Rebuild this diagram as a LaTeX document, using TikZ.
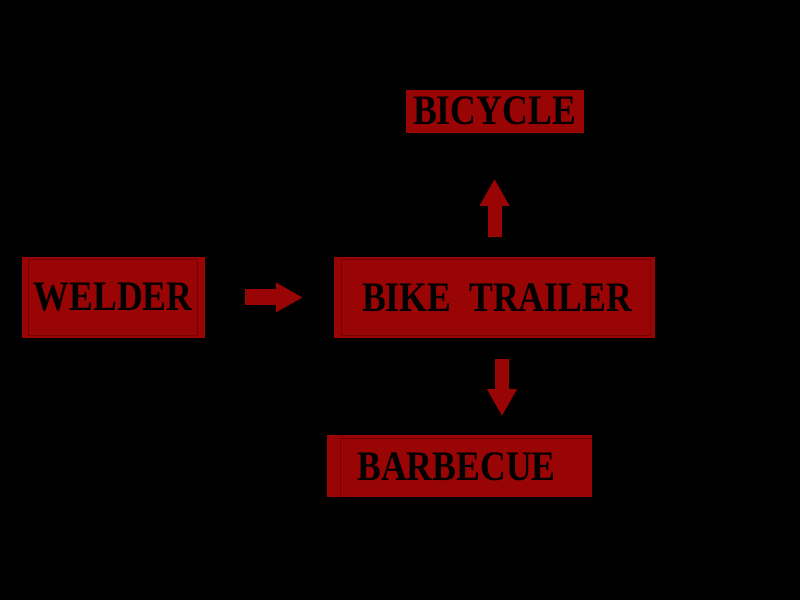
\documentclass[tikz,border=0pt]{standalone}
\usepackage{fontspec}
\usepackage{tikz}
\usetikzlibrary{arrows.meta, positioning, calc}
\usepackage{xcolor}
\newfontfamily\stencilfont{Liberation Serif}[FakeStretch=0.85, WordSpace=2]
\definecolor{boxred}{RGB}{153,5,5}
\definecolor{edgered}{RGB}{118,0,0}
\tikzset{
  block/.style={rectangle, fill=boxred, inner sep=0pt, text=black,
    font=\stencilfont\fontsize{42}{42}\selectfont\bfseries},
  frame/.style={draw=edgered, line width=0.8pt},
  arr/.style={-{Triangle[length=27pt, width=28pt]}, draw=boxred, line width=14pt},
}
\begin{document}
\begin{tikzpicture}[x=1pt, y=1pt]
  % background
  \fill[black] (0,0) rectangle (800,600);

  % Bike trailer
  \node[block, minimum width=321pt, minimum height=81pt] (trailer) at (494.5,302.5) {\hspace{5pt}BIKE TRAILER};

  % Welder, bicycle, barbecue
  \node[block, minimum width=183pt, minimum height=81pt, left=129pt of trailer] (welder) {WELDER};
  \node[block, minimum width=178pt, minimum height=43pt, above=124pt of trailer] (bicycle) {BICYCLE};
  \node[block, minimum width=265pt, minimum height=62pt, below=97pt of trailer, xshift=-35pt] (bbq) {\hspace{-6pt}BARBECUE};

  % inner frames
  \draw[frame] ([shift={(7,3)}]welder.south west) rectangle ([shift={(-7,-3)}]welder.north east);
  \draw[frame] ([shift={(8,3)}]trailer.south west) rectangle ([shift={(-5,-3)}]trailer.north east);
  \draw[frame] ([xshift=14pt]bbq.south west) |- ([yshift=-3pt]bbq.north east);

  \draw[arr, line width=16pt, shorten <=40pt, shorten >=31pt] (welder) -- (trailer);
  \draw[arr, shorten <=20pt, shorten >=46pt] (trailer.north) -- (bicycle.south);
  \draw[arr, shorten <=21pt, shorten >=19pt] ([xshift=7.5pt]trailer.south) -- ([xshift=7.5pt]trailer.south |- bbq.north);
\end{tikzpicture}
\end{document}
